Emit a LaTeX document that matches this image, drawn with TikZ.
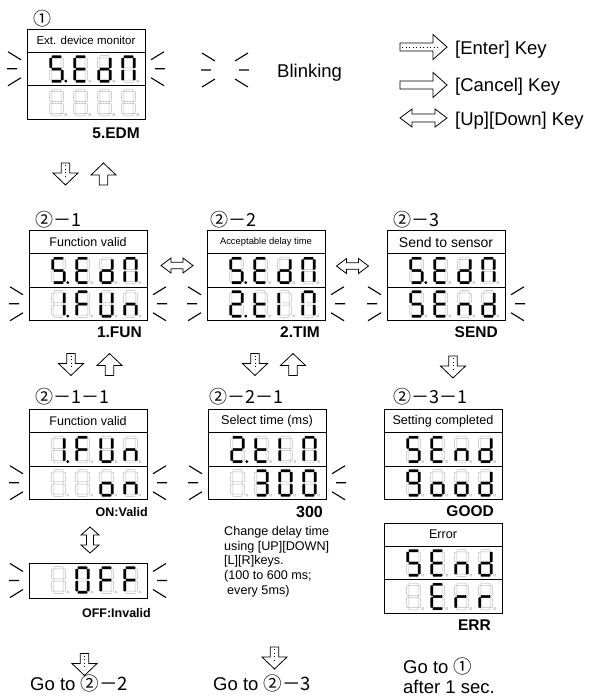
\documentclass[tikz,border=0pt]{standalone}
\usepackage{fontspec}
\setmainfont{Liberation Sans}
\newfontfamily\cjk{Noto Sans CJK JP}
\usetikzlibrary{positioning}

% seven segment geometry, one digit is 14 x 27, origin top left
\def\segA{(2.4,0.2) rectangle (11.6,2.4)}
\def\segB{(11.6,2.5) rectangle (13.8,12.4)}
\def\segC{(11.6,14.6) rectangle (13.8,24.5)}
\def\segD{(2.4,24.6) rectangle (11.6,26.8)}
\def\segE{(0.2,14.6) rectangle (2.4,24.5)}
\def\segF{(0.2,2.5) rectangle (2.4,12.4)}
\def\segG{(2.4,12.4) rectangle (11.6,14.6)}
\def\segP{(16.3,25.6) circle (1.2)}
\def\segN{(0,0)}
\newcommand{\segpath}[2]{\path[#2] #1;}
\newcommand{\segdigit}[2]{%
  \begin{scope}[shift={(#1,3.5)}]
    \foreach \sg in {A,B,C,D,E,F,G,P} {\expandafter\segpath\csname seg\sg\endcsname{segoff}}
    \foreach \sg in {#2} {\expandafter\segpath\csname seg\sg\endcsname{segon}}
  \end{scope}}
\newcommand{\digitrow}[5]{%
  \begin{scope}[shift={(#1.north west)}]
    \segdigit{22.5}{#2}\segdigit{46.5}{#3}\segdigit{70.5}{#4}\segdigit{94.5}{#5}
  \end{scope}}
% blinking marks beside a row
\newcommand{\blinkleft}[1]{%
  \draw[blink, shift={#1}] (-19,-17) -- (-6,-9) (-20,0) -- (-10,0) (-19,17) -- (-6,9);}
\newcommand{\blinkright}[1]{%
  \draw[blink, shift={#1}] (19,-17) -- (6,-9) (20,0) -- (10,0) (19,17) -- (6,9);}
% hollow key arrows: centre, angle, length, shaft half width, head half width, head length
\newcommand{\keyarrow}[6]{%
  \draw[keyline, shift={#1}, rotate=#2]
    ({-#3/2},{-#4}) -- ({#3/2-#6},{-#4}) -- ({#3/2-#6},{-#5}) -- ({#3/2},0)
    -- ({#3/2-#6},{#5}) -- ({#3/2-#6},{#4}) -- ({-#3/2},{#4}) -- cycle;}
\newcommand{\enterdots}[4]{%
  \draw[enterdot, shift={#1}, rotate=#2] ({-#3/2+2},0) -- ({#3/2-#4/2},0);}
\newcommand{\dualarrow}[6]{%
  \draw[keyline, shift={#1}, rotate=#2]
    ({-#3/2},0) -- ({-#3/2+#6},{-#5}) -- ({-#3/2+#6},{-#4}) -- ({#3/2-#6},{-#4})
    -- ({#3/2-#6},{-#5}) -- ({#3/2},0) -- ({#3/2-#6},{#5}) -- ({#3/2-#6},{#4})
    -- ({-#3/2+#6},{#4}) -- ({-#3/2+#6},{#5}) -- cycle;}

\begin{document}
\begin{tikzpicture}[x=1pt, y=-1pt,
    title/.style={draw, line width=0.9pt, outer sep=0pt, inner sep=0pt,
                  minimum width=118, minimum height=23},
    row/.style={draw, line width=0.9pt, outer sep=0pt, inner sep=0pt,
                minimum width=118, minimum height=33.5},
    tag/.style={font=\fontsize{15.5}{18}\selectfont\bfseries, inner sep=0pt, anchor=base east},
    big/.style={font=\fontsize{18.5}{22}\selectfont, inner sep=0pt, anchor=base west},
    stepno/.style={font=\cjk\fontsize{18}{21}\selectfont, inner sep=0pt, anchor=west},
    desc/.style={font=\fontsize{12.6}{14.7}\selectfont, inner sep=0pt, align=left},
    blink/.style={line width=1.1pt},
    keyline/.style={line width=0.8pt, fill=white, line join=miter},
    enterdot/.style={line width=0.9pt, dash pattern=on 0.9pt off 2.6pt},
    segon/.style={fill=black, draw=black, line width=0.3pt, rounded corners=0.5pt},
    segoff/.style={draw=black!28, line width=0.5pt, rounded corners=0.5pt}]
  \useasboundingbox (0,0) rectangle (589,696);

  % legend
  \blinkleft{(221,70)}
  \blinkright{(229,70)}
  \node[big] (blk) at (277,77) {Blinking};
  \keyarrow{(423.5,47)}{0}{47}{4}{12.5}{14}
  \enterdots{(423.5,47)}{0}{47}{14}
  \node[big] (kent) at (455,54) {[Enter] Key};
  \keyarrow{(423.5,85)}{0}{47}{4}{12.5}{14}
  \node[big] (kcan) at (455,91) {[Cancel] Key};
  \dualarrow{(423.5,118)}{0}{47}{4}{9}{12}
  \node[big] (kud) at (455,125) {[Up][Down] Key};

  % 1: monitor
  \node[stepno] (n1) at (33,19) {①};
  \node[title, font=\fontsize{11.5}{13}\selectfont] (m1t) at (86,40.5) {Ext. device monitor};
  \node[row, below=0pt of m1t] (m1a) {};
  \node[row, below=0pt of m1a] (m1b) {};
  \digitrow{m1a}{A,C,D,F,G,P}{A,D,E,F,G}{B,C,D,E,G}{A,B,C,E,F}
  \digitrow{m1b}{N}{N}{N}{N}
  \blinkleft{(m1a.west)} \blinkright{(m1a.east)}
  \node[tag] (l1) at (140,138) {5.EDM};
  \keyarrow{(65.5,174)}{-90}{22}{4.2}{12.5}{12}
  \enterdots{(65.5,174)}{-90}{22}{12}
  \keyarrow{(103.5,174)}{90}{22}{4.2}{12.5}{12}

  % 2-1 function
  \node[stepno] (n21) at (35,220) {②－1};
  \node[title, font=\fontsize{12.5}{14}\selectfont] (f1t) at (88,242) {Function valid};
  \node[row, below=0pt of f1t] (f1a) {};
  \node[row, below=0pt of f1a] (f1b) {};
  \digitrow{f1a}{A,C,D,F,G,P}{A,D,E,F,G}{B,C,D,E,G}{A,B,C,E,F}
  \digitrow{f1b}{B,C,P}{A,E,F,G}{B,C,D,E,F}{C,E,G}
  \blinkleft{(f1b.west)} \blinkright{(f1b.east)}
  \node[tag] (l21) at (142,337) {1.FUN};

  % 2-2 delay time
  \node[stepno] (n22) at (210,220) {②－2};
  \node[title, font=\fontsize{9.4}{11}\selectfont] (f2t) at (266,242) {Acceptable delay time};
  \node[row, below=0pt of f2t] (f2a) {};
  \node[row, below=0pt of f2a] (f2b) {};
  \digitrow{f2a}{A,C,D,F,G,P}{A,D,E,F,G}{B,C,D,E,G}{A,B,C,E,F}
  \digitrow{f2b}{A,B,D,E,G,P}{D,E,F,G}{E,F}{A,B,C,E,F}
  \blinkleft{(f2b.west)} \blinkright{(f2b.east)}
  \node[tag] (l22) at (320,337) {2.TIM};

  % 2-3 send
  \node[stepno] (n23) at (393,220) {②－3};
  \node[title, font=\fontsize{14}{16}\selectfont] (f3t) at (446,242) {Send to sensor};
  \node[row, below=0pt of f3t] (f3a) {};
  \node[row, below=0pt of f3a] (f3b) {};
  \digitrow{f3a}{A,C,D,F,G,P}{A,D,E,F,G}{B,C,D,E,G}{A,B,C,E,F}
  \digitrow{f3b}{A,C,D,F,G}{A,D,E,F,G}{C,E,G}{B,C,D,E,G}
  \blinkleft{(f3b.west)} \blinkright{(f3b.east)}
  \node[tag] (l23) at (498,337) {SEND};

  % keys between the menus
  \dualarrow{(177,265.5)}{0}{32}{3.3}{7.5}{10}
  \dualarrow{(352.5,266)}{0}{32}{3.3}{7.5}{10}
  \keyarrow{(71,364.5)}{-90}{22}{4.2}{12.5}{12}
  \enterdots{(71,364.5)}{-90}{22}{12}
  \keyarrow{(109.5,364.5)}{90}{22}{4.2}{12.5}{12}
  \keyarrow{(255,364.5)}{-90}{22}{4.2}{12.5}{12}
  \enterdots{(255,364.5)}{-90}{22}{12}
  \keyarrow{(293,364.5)}{90}{22}{4.2}{12.5}{12}
  \keyarrow{(453,367)}{-90}{22}{4.2}{12.5}{12}
  \enterdots{(453,367)}{-90}{22}{12}

  % 2-1-1 on / off
  \node[stepno] (n211) at (35,397) {②－1－1};
  \node[title, font=\fontsize{12.5}{14}\selectfont] (g1t) at (88,421) {Function valid};
  \node[row, below=0pt of g1t] (g1a) {};
  \node[row, below=0pt of g1a] (g1b) {};
  \digitrow{g1a}{B,C,P}{A,E,F,G}{B,C,D,E,F}{C,E,G}
  \digitrow{g1b}{N}{N}{C,D,E,G}{C,E,G}
  \blinkleft{(g1b.west)} \blinkright{(g1b.east)}
  \node[tag, font=\fontsize{12.5}{15}\selectfont\bfseries] (l211) at (148,516) {ON:Valid};
  \dualarrow{(90,540)}{90}{26}{3.5}{9}{8}
  \node[row, minimum height=35] (offr) at (88,580.5) {};
  \begin{scope}[yshift=-0.75pt]
    \digitrow{offr}{N}{A,B,C,D,E,F}{A,E,F,G}{A,E,F,G}
  \end{scope}
  \blinkleft{(offr.west)} \blinkright{(offr.east)}
  \node[tag, font=\fontsize{12.5}{15}\selectfont\bfseries] (loff) at (151,617) {OFF:Invalid};
  \keyarrow{(84.5,664.5)}{-90}{22}{4.2}{12.5}{12}
  \enterdots{(84.5,664.5)}{-90}{22}{12}
  \node[big] (go1) at (30,690) {Go to {\cjk ②－2}};

  % 2-2-1 select time
  \node[stepno] (n221) at (209,397) {②－2－1};
  \node[title, font=\fontsize{12.7}{14}\selectfont] (g2t) at (267,421) {Select time (ms)};
  \node[row, below=0pt of g2t] (g2a) {};
  \node[row, below=0pt of g2a] (g2b) {};
  \digitrow{g2a}{A,B,D,E,G,P}{D,E,F,G}{E,F}{A,B,C,E,F}
  \digitrow{g2b}{N}{A,B,C,D,G}{A,B,C,D,E,F}{A,B,C,D,E,F}
  \blinkleft{(g2b.west)} \blinkright{(g2b.east)}
  \node[tag, font=\fontsize{16}{18}\selectfont\bfseries] (l221) at (323,517) {300};
  \node[desc, anchor=north west] (dsc) at (224,526)
    {Change delay time\\using [UP][DOWN]\\{}[L][R]keys.\\(100 to 600 ms;\\\hspace*{3pt}every 5ms)};
  \keyarrow{(274.5,658)}{-90}{22}{4.2}{12.5}{12}
  \enterdots{(274.5,658)}{-90}{22}{12}
  \node[big] (go2) at (213,690) {Go to {\cjk ②－3}};

  % 2-3-1 result
  \node[stepno] (n231) at (393,397) {②－3－1};
  \node[title, font=\fontsize{12.6}{14}\selectfont] (g3t) at (443,421) {Setting completed};
  \node[row, below=0pt of g3t] (g3a) {};
  \node[row, below=0pt of g3a] (g3b) {};
  \digitrow{g3a}{A,C,D,F,G}{A,D,E,F,G}{C,E,G}{B,C,D,E,G}
  \digitrow{g3b}{A,B,C,D,F,G}{C,D,E,G}{C,D,E,G}{B,C,D,E,G}
  \node[tag] (l231) at (494,516) {GOOD};
  \node[title, font=\fontsize{12.6}{14}\selectfont] (g4t) at (443,534.5) {Error};
  \node[row, below=0pt of g4t] (g4a) {};
  \node[row, below=0pt of g4a] (g4b) {};
  \digitrow{g4a}{A,C,D,F,G}{A,D,E,F,G}{C,E,G}{B,C,D,E,G}
  \digitrow{g4b}{N}{A,D,E,F,G}{E,G}{E,G}
  \node[tag] (l232) at (491,630) {ERR};
  \node[big] (go3) at (403,673) {Go to {\cjk ①}};
  \node[big] (go3b) at (403,693) {after 1 sec.};
\end{tikzpicture}
\end{document}
